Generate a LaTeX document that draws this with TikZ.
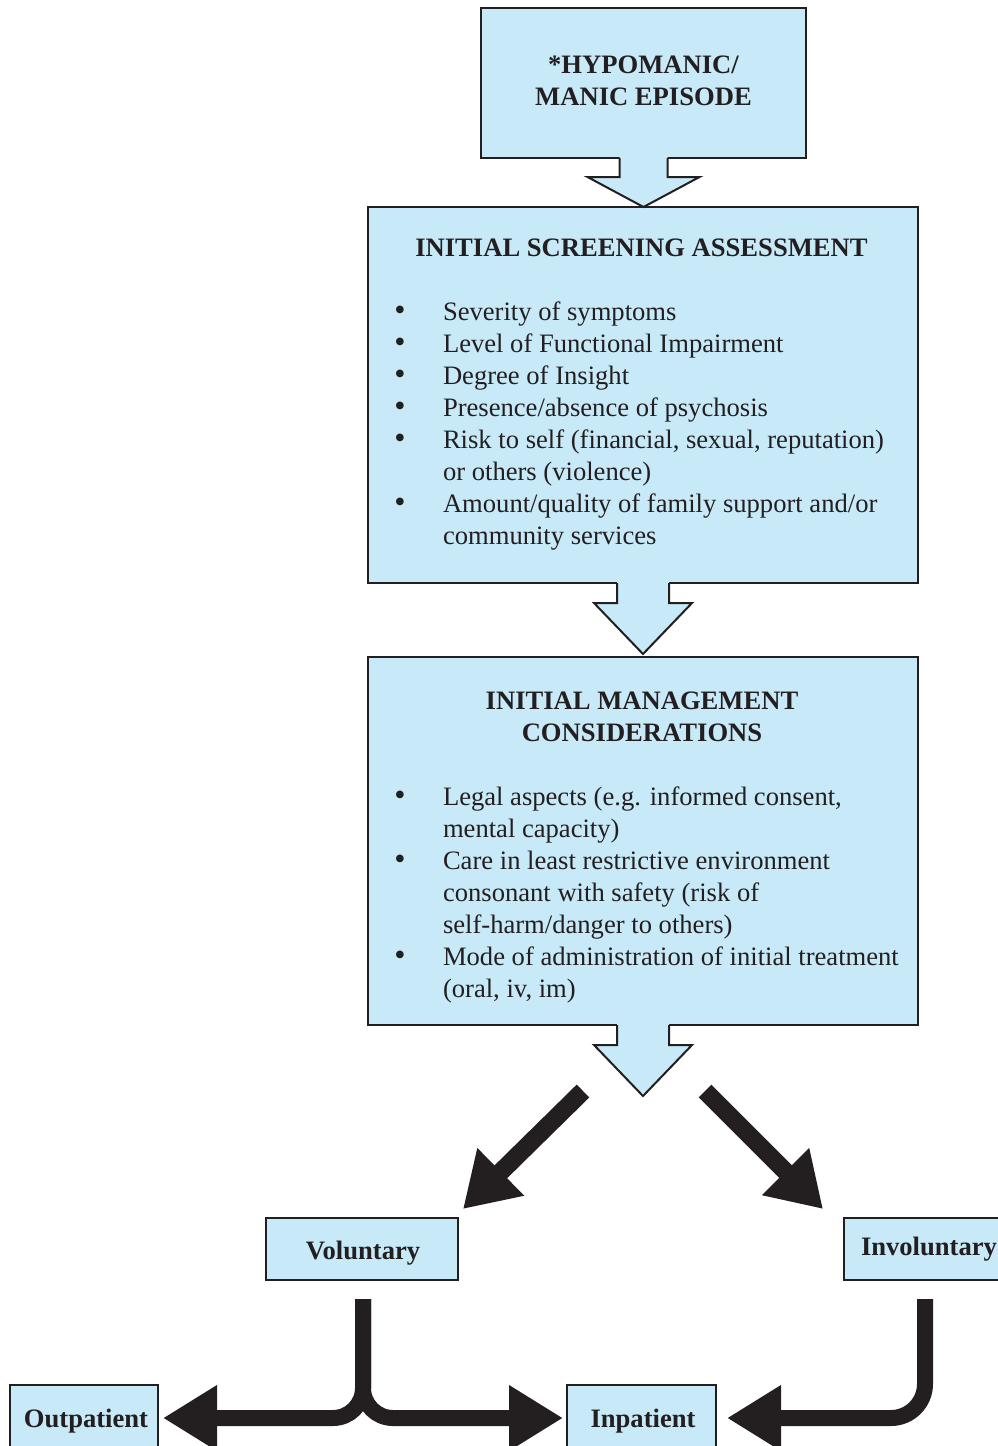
\documentclass[tikz,border=0pt]{standalone}
\usepackage{fontspec}
\setmainfont{Liberation Serif}
\usetikzlibrary{calc,arrows.meta}
\definecolor{boxblue}{HTML}{C7E9F8}
\definecolor{ink}{HTML}{231F20}
\newcommand{\blockarr}[5]{%
  \fill[boxblue] ($(#1)+(-#2,-2)$) -- ($(#1)+(-#2,#3)$) -- ($(#1)+(-#4,#3)$) -- ($(#1)+(0,{#3+#5})$) -- ($(#1)+(#4,#3)$) -- ($(#1)+(#2,#3)$) -- ($(#1)+(#2,-2)$) -- cycle;
  \draw[draw=ink, line width=1pt, line join=miter] ($(#1)+(-#2,0)$) -- ($(#1)+(-#2,#3)$) -- ($(#1)+(-#4,#3)$) -- ($(#1)+(0,{#3+#5})$) -- ($(#1)+(#4,#3)$) -- ($(#1)+(#2,#3)$) -- ($(#1)+(#2,0)$);}
\begin{document}
\begin{tikzpicture}[x=0.5pt,y=-0.5pt,
  box/.style={rectangle, draw=ink, fill=boxblue, line width=1pt, inner sep=0pt, outer sep=0pt},
  txt/.style={font=\fontsize{13.3}{16}\selectfont, text=ink, inner sep=0pt, outer sep=0pt},
  btxt/.style={font=\fontsize{13.3}{16}\selectfont\bfseries, text=ink, inner sep=0pt, outer sep=0pt},
  bul/.style={font=\fontsize{16}{16}\selectfont, text=ink, inner sep=0pt, outer sep=0pt, anchor=base},
  itm/.style={txt, anchor=base west},
  diagarrow/.style={draw=ink, line width=9pt, -{Triangle[length=26.5pt,width=31.5pt]}},
  fatarrow/.style={draw=ink, line width=8pt, -{Triangle[length=27pt,width=31pt]}}
]
\useasboundingbox (0,0) rectangle (997,1446);

% boxes
\node[box, minimum width=162.5pt, minimum height=75pt] (b1) at (643.5,83) {};
\node[box, minimum width=275pt, minimum height=188pt] (b2) at (643,395) {};
\node[box, minimum width=275pt, minimum height=184pt] (b3) at (643,841) {};
\node[box, minimum width=96pt, minimum height=31pt] (vol) at (362,1249) {};
\node[box, minimum width=83pt, minimum height=31pt] (invol) at (927,1249) {};
\node[box, minimum width=74pt, minimum height=33pt] (outp) at (84,1418) {};
\node[box, minimum width=74.5pt, minimum height=33pt] (inp) at (641.5,1418) {};

% block arrows
\blockarr{b1.south}{24}{19}{56}{30}
\blockarr{b2.south}{26}{20}{49}{51}
\blockarr{b3.south}{26}{20}{49}{51}

% box 1 text
\node[btxt, anchor=base] (b1l1) at (643.5,73) {*HYPOMANIC/};
\node[btxt, anchor=base] (b1l2) at (643.5,105) {MANIC EPISODE};

% box 2 text
\node[btxt, anchor=base] (b2t) at (641.5,256) {INITIAL SCREENING ASSESSMENT};
\node[bul] (b2b1) at (400,320) {•};
\node[itm] (b2i1) at (443,320) {Severity of symptoms};
\node[bul] (b2b2) at (400,352) {•};
\node[itm] (b2i2) at (443,352) {Level of Functional Impairment};
\node[bul] (b2b3) at (400,384) {•};
\node[itm] (b2i3) at (443,384) {Degree of Insight};
\node[bul] (b2b4) at (400,416) {•};
\node[itm] (b2i4) at (443,416) {Presence/absence of psychosis};
\node[bul] (b2b5) at (400,448) {•};
\node[itm] (b2i5) at (443,448) {Risk to self (financial, sexual, reputation)};
\node[itm] (b2i6) at (443,480) {or others (violence)};
\node[bul] (b2b7) at (400,512) {•};
\node[itm] (b2i7) at (443,512) {Amount/quality of family support and/or};
\node[itm] (b2i8) at (443,544) {community services};

% box 3 text
\node[btxt, anchor=base] (b3t1) at (642,709) {INITIAL MANAGEMENT};
\node[btxt, anchor=base] (b3t2) at (642,741) {CONSIDERATIONS};
\node[bul] (b3b1) at (400,805) {•};
\node[itm] (b3i1) at (443,805) {Legal aspects (e.g. informed consent,};
\node[itm] (b3i2) at (443,837) {mental capacity)};
\node[bul] (b3b3) at (400,869) {•};
\node[itm] (b3i3) at (443,869) {Care in least restrictive environment};
\node[itm] (b3i4) at (443,901) {consonant with safety (risk of};
\node[itm] (b3i5) at (443,933) {self-harm/danger to others)};
\node[bul] (b3b6) at (400,965) {•};
\node[itm] (b3i6) at (443,965) {Mode of administration of initial treatment};
\node[itm] (b3i7) at (443,997) {(oral, iv, im)};

% small boxes text
\node[btxt, anchor=base] (volt) at (363,1259) {Voluntary};
\node[btxt, anchor=base west] (involt) at (861,1255) {Involuntary};
\node[btxt, anchor=base] (outpt) at (86,1427) {Outpatient};
\node[btxt, anchor=base] (inpt) at (643,1427) {Inpatient};

% diagonal arrows
\coordinate (dls) at (583,1091);
\coordinate (dle) at (463,1209);
\coordinate (drs) at (705,1091);
\coordinate (dre) at (823,1209);
\draw[diagarrow] (dls) -- (dle);
\draw[diagarrow] (drs) -- (dre);

% bottom connectors
\coordinate (vs) at ($(vol.south)+(1,19)$);
\coordinate (is) at ($(invol.south)+(-2,19)$);
\draw[fatarrow, rounded corners=15pt] (vs) |- ($(outp.east)+(5,0)$);
\draw[fatarrow, rounded corners=15pt] (vs) |- ($(inp.west)+(-4,0)$);
\draw[fatarrow, rounded corners=17pt] (is) |- ($(inp.east)+(11,0)$);
\end{tikzpicture}
\end{document}
